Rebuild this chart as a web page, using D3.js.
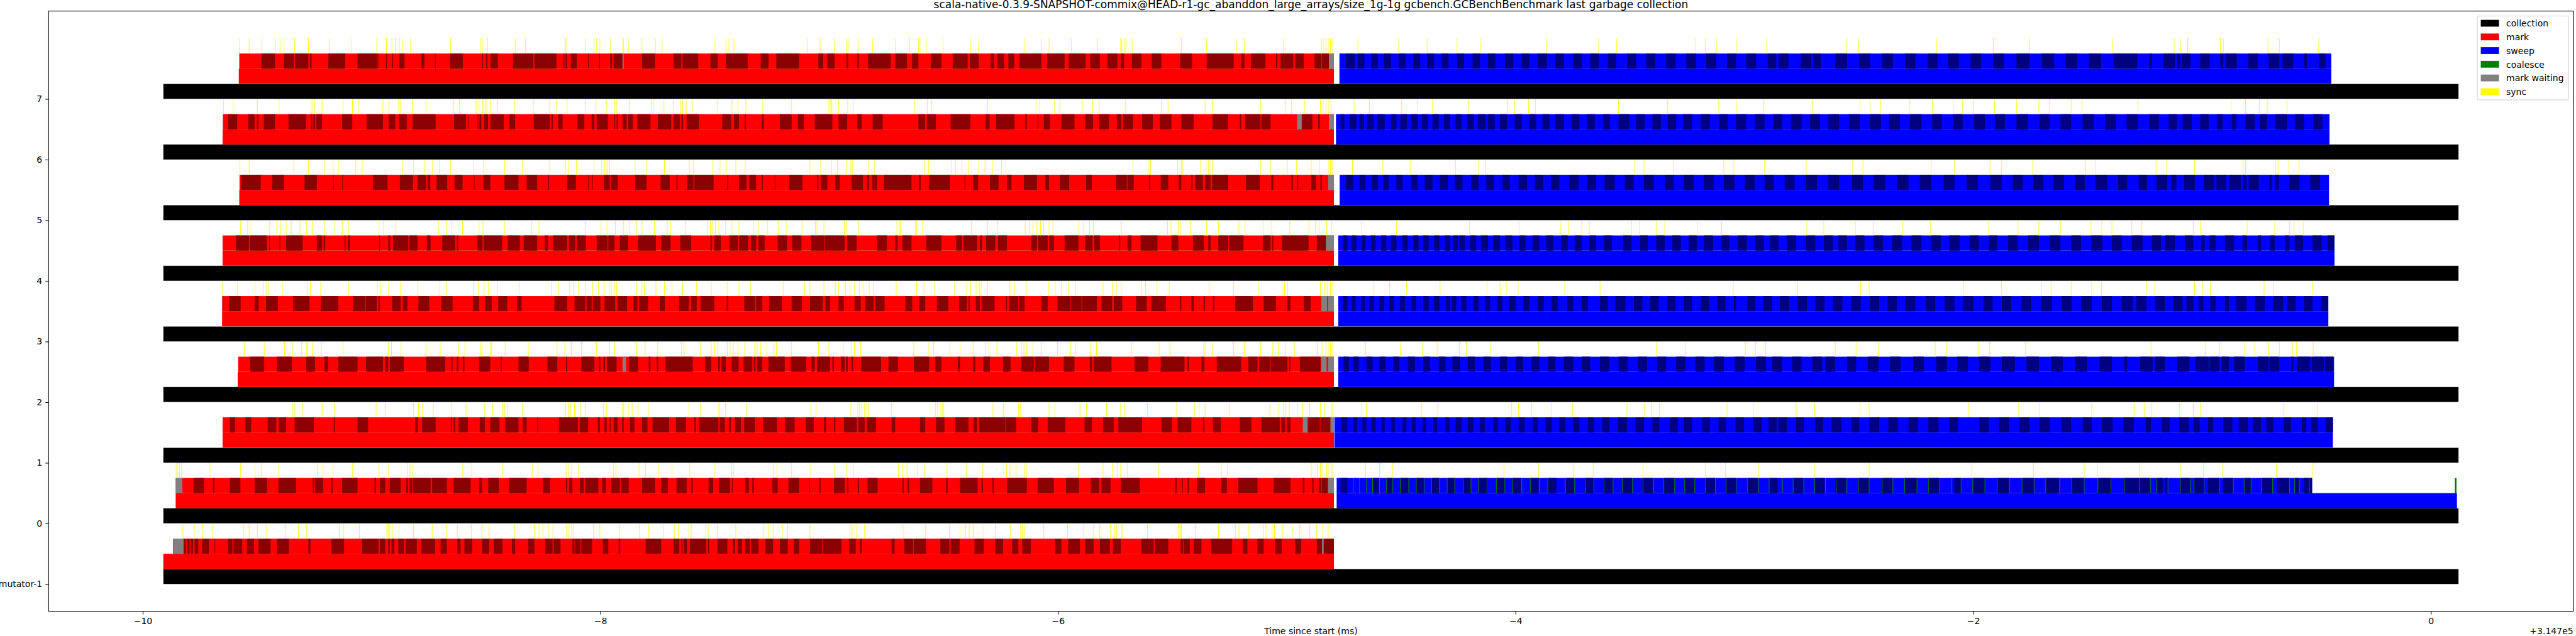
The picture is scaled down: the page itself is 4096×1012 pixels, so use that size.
<!DOCTYPE html>
<html><head><meta charset="utf-8">
<script src="https://cdn.jsdelivr.net/npm/d3@7"></script>
<style>html,body{margin:0;padding:0;background:#fff;overflow:hidden}svg{display:block}</style>
</head><body>
<svg id="chart" width="4096" height="1012"></svg>
<script>
// ---------------- DATA (times in ms, relative to offset +3.147e5) ----------------
const threads = ["mutator-1","0","1","2","3","4","5","6","7"];
const collectionStart = [-9.910,-9.910,-9.910,-9.910,-9.910,-9.910,-9.910,-9.910,-9.910];
const collectionEnd   = [0.121,0.121,0.121,0.121,0.121,0.121,0.121,0.121,0.121];
const markPhaseStart  = [-9.910,-9.856,-9.651,-9.585,-9.653,-9.651,-9.578,-9.651,-9.580];
const markDetailStart = [-9.867,-9.856,-9.651,-9.583,-9.652,-9.651,-9.577,-9.650,-9.578];
const markEnd         = [-4.794,-4.794,-4.794,-4.794,-4.794,-4.794,-4.794,-4.794,-4.794];
const sweepStart      = [null,-4.782,-4.792,-4.775,-4.775,-4.775,-4.769,-4.785,-4.770];
const sweepPhaseEnd   = [null,0.114,-0.428,-0.423,-0.448,-0.421,-0.445,-0.443,-0.435];
const sweepDetailEnd  = [null,-0.519,-0.428,-0.423,-0.448,-0.421,-0.445,-0.443,-0.435];
const xTicks = [-10,-8,-6,-4,-2,0];
const xTickLabels = ["\u221210","\u22128","\u22126","\u22124","\u22122","0"];
const legendLabels = ["collection","mark","sweep","coalesce","mark waiting","sync"];
const legendColors = ["#000000","#ff0000","#0000ff","#008000","#808080","#ffff00"];

// mark batches drawn in dark red (start,end pairs)
const darkRedM = [-9.819,-9.812,-9.805,-9.795,-9.790,-9.780,-9.773,-9.757,-9.740,-9.711,-9.686,-9.683,-9.627,-9.608,-9.603,-9.565,-9.545,-9.513,-9.494,-9.441,-9.414,-9.362,-9.276,-9.267,-9.175,-9.120,-9.041,-8.970,-8.963,-8.940,-8.927,-8.920,-8.913,-8.900,-8.883,-8.859,-8.851,-8.802,-8.782,-8.722,-8.698,-8.671,-8.625,-8.611,-8.594,-8.560,-8.517,-8.486,-8.466,-8.428,-8.386,-8.372,-8.315,-8.288,-8.241,-8.209,-8.204,-8.174,-8.122,-8.113,-8.110,-8.087,-8.083,-8.036,-7.989,-7.965,-7.920,-7.913,-7.802,-7.734,-7.680,-7.655,-7.646,-7.641,-7.636,-7.621,-7.609,-7.537,-7.529,-7.524,-7.488,-7.445,-7.421,-7.411,-7.399,-7.381,-7.367,-7.347,-7.342,-7.309,-7.278,-7.245,-7.215,-7.181,-7.154,-7.131,-7.084,-7.030,-7.026,-6.946,-6.912,-6.884,-6.865,-6.858,-6.727,-6.714,-6.672,-6.633,-6.630,-6.576,-6.514,-6.475,-6.469,-6.430,-6.365,-6.324,-6.274,-6.240,-6.200,-6.173,-6.156,-6.119,-6.012,-5.985,-5.955,-5.904,-5.881,-5.844,-5.817,-5.773,-5.760,-5.726,-5.635,-5.582,-5.577,-5.518,-5.464,-5.454,-5.451,-5.424,-5.407,-5.373,-5.330,-5.239,-5.192,-5.172,-5.128,-5.101,-5.051,-5.022,-4.963,-4.937,-4.869,-4.846,-4.839,-4.794];
const darkRed0 = [-9.778,-9.733,-9.693,-9.686,-9.619,-9.573,-9.511,-9.457,-9.407,-9.330,-9.257,-9.251,-9.247,-9.212,-9.178,-9.170,-9.128,-9.061,-8.987,-8.980,-8.963,-8.940,-8.920,-8.873,-8.848,-8.841,-8.834,-8.822,-8.819,-8.742,-8.735,-8.671,-8.641,-8.567,-8.530,-8.517,-8.490,-8.444,-8.399,-8.322,-8.251,-8.219,-8.150,-8.145,-8.137,-8.122,-8.090,-8.073,-8.066,-8.009,-7.992,-7.976,-7.952,-7.915,-7.910,-7.876,-7.818,-7.761,-7.734,-7.705,-7.667,-7.623,-7.603,-7.596,-7.527,-7.507,-7.482,-7.433,-7.425,-7.421,-7.367,-7.351,-7.336,-7.329,-7.248,-7.225,-7.178,-7.131,-7.087,-7.084,-7.043,-7.037,-6.979,-6.932,-6.922,-6.916,-6.875,-6.869,-6.832,-6.788,-6.680,-6.674,-6.657,-6.650,-6.603,-6.549,-6.489,-6.482,-6.428,-6.351,-6.334,-6.328,-6.287,-6.280,-6.223,-6.136,-6.089,-6.018,-5.965,-5.908,-5.857,-5.820,-5.810,-5.770,-5.726,-5.642,-5.488,-5.481,-5.457,-5.454,-5.434,-5.427,-5.393,-5.357,-5.286,-5.262,-5.212,-5.128,-5.057,-4.984,-4.930,-4.923,-4.889,-4.883,-4.859,-4.849,-4.846,-4.822];
const darkRed1 = [-9.619,-9.597,-9.551,-9.526,-9.454,-9.416,-9.405,-9.373,-9.336,-9.252,-9.165,-9.160,-9.061,-9.015,-8.809,-8.797,-8.779,-8.720,-8.654,-8.649,-8.641,-8.634,-8.619,-8.579,-8.527,-8.505,-8.481,-8.441,-8.416,-8.358,-8.339,-8.322,-8.275,-8.271,-8.181,-8.098,-8.090,-8.053,-8.011,-8.002,-7.982,-7.972,-7.959,-7.955,-7.942,-7.925,-7.905,-7.898,-7.871,-7.851,-7.818,-7.794,-7.772,-7.700,-7.670,-7.625,-7.589,-7.582,-7.569,-7.484,-7.478,-7.456,-7.438,-7.430,-7.411,-7.386,-7.371,-7.325,-7.289,-7.228,-7.194,-7.151,-7.102,-7.067,-7.023,-7.013,-6.979,-6.973,-6.936,-6.879,-6.872,-6.845,-6.835,-6.795,-6.727,-6.711,-6.603,-6.580,-6.533,-6.496,-6.449,-6.391,-6.368,-6.354,-6.344,-6.230,-6.227,-6.183,-6.116,-6.086,-6.045,-5.968,-5.884,-5.851,-5.803,-5.756,-5.736,-5.632,-5.548,-5.501,-5.477,-5.417,-5.367,-5.360,-5.323,-5.289,-5.205,-5.155,-5.111,-5.031,-5.024,-5.007,-5.000,-4.984,-4.906,-4.856,-4.853,-4.809];
const darkRed2 = [-9.531,-9.469,-9.414,-9.348,-9.286,-9.247,-9.206,-9.190,-9.145,-9.061,-9.024,-8.950,-8.940,-8.927,-8.920,-8.859,-8.762,-8.678,-8.651,-8.646,-8.627,-8.621,-8.601,-8.594,-8.530,-8.481,-8.436,-8.431,-8.358,-8.313,-8.231,-8.188,-8.150,-8.145,-8.083,-8.026,-8.006,-8.000,-7.986,-7.979,-7.971,-7.929,-7.875,-7.835,-7.789,-7.781,-7.754,-7.747,-7.715,-7.596,-7.542,-7.515,-7.485,-7.478,-7.471,-7.451,-7.426,-7.396,-7.374,-7.336,-7.329,-7.322,-7.315,-7.292,-7.265,-7.194,-7.168,-7.100,-7.077,-7.063,-7.053,-6.996,-6.986,-6.979,-6.949,-6.932,-6.926,-6.919,-6.902,-6.895,-6.860,-6.773,-6.741,-6.699,-6.630,-6.563,-6.536,-6.509,-6.438,-6.428,-6.371,-6.361,-6.326,-6.297,-6.240,-6.207,-6.160,-6.106,-6.102,-6.039,-5.975,-5.928,-5.861,-5.851,-5.844,-5.766,-5.666,-5.605,-5.551,-5.447,-5.434,-5.427,-5.373,-5.360,-5.306,-5.199,-5.168,-5.128,-5.121,-5.074,-5.071,-4.997,-4.990,-4.984,-4.943,-4.853];
const darkRed3 = [-9.652,-9.649,-9.622,-9.572,-9.511,-9.493,-9.461,-9.409,-9.343,-9.271,-9.222,-9.145,-9.081,-9.029,-9.025,-8.977,-8.970,-8.963,-8.910,-8.873,-8.863,-8.843,-8.795,-8.748,-8.695,-8.646,-8.557,-8.530,-8.503,-8.475,-8.446,-8.407,-8.365,-8.344,-8.201,-8.145,-8.113,-8.066,-8.060,-8.038,-8.033,-8.000,-7.982,-7.935,-7.925,-7.883,-7.855,-7.838,-7.831,-7.791,-7.740,-7.718,-7.656,-7.613,-7.603,-7.579,-7.562,-7.502,-7.448,-7.441,-7.371,-7.324,-7.319,-7.292,-7.262,-7.206,-7.164,-7.119,-7.084,-7.028,-7.016,-6.996,-6.959,-6.936,-6.889,-6.862,-6.842,-6.806,-6.798,-6.758,-6.667,-6.637,-6.606,-6.580,-6.529,-6.479,-6.432,-6.398,-6.391,-6.385,-6.359,-6.341,-6.334,-6.277,-6.227,-6.223,-6.213,-6.173,-6.170,-6.146,-6.072,-6.045,-6.002,-5.948,-5.945,-5.897,-5.894,-5.830,-5.810,-5.763,-5.756,-5.719,-5.659,-5.612,-5.592,-5.528,-5.467,-5.461,-5.417,-5.407,-5.363,-5.357,-5.323,-5.316,-5.225,-5.148,-5.101,-5.047,-4.997,-4.984,-4.926,-4.896];
const darkRed4 = [-9.593,-9.536,-9.531,-9.457,-9.447,-9.444,-9.402,-9.399,-9.373,-9.301,-9.239,-9.216,-9.209,-9.202,-9.118,-9.113,-9.104,-9.094,-8.967,-8.963,-8.927,-8.918,-8.906,-8.839,-8.834,-8.799,-8.758,-8.742,-8.691,-8.634,-8.627,-8.621,-8.537,-8.515,-8.510,-8.429,-8.405,-8.352,-8.335,-8.276,-8.243,-8.229,-8.207,-8.145,-8.137,-8.110,-8.103,-8.063,-8.016,-7.969,-7.965,-7.938,-7.915,-7.878,-7.835,-7.757,-7.734,-7.693,-7.651,-7.603,-7.519,-7.512,-7.502,-7.473,-7.435,-7.398,-7.393,-7.354,-7.342,-7.319,-7.309,-7.282,-7.225,-7.184,-7.161,-7.121,-7.080,-7.023,-7.020,-6.932,-6.921,-6.880,-6.791,-6.748,-6.711,-6.701,-6.680,-6.640,-6.576,-6.509,-6.445,-6.420,-6.413,-6.353,-6.341,-6.331,-6.314,-6.274,-6.262,-6.223,-6.116,-6.092,-6.086,-6.045,-6.039,-6.018,-5.971,-5.911,-5.881,-5.849,-5.842,-5.817,-5.733,-5.728,-5.696,-5.679,-5.639,-5.565,-5.504,-5.474,-5.410,-5.363,-5.343,-5.333,-5.299,-5.256,-5.252,-5.189,-5.105,-5.071,-5.064,-5.059,-5.021,-4.905,-4.869,-4.829];
const darkRed5 = [-9.570,-9.484,-9.434,-9.382,-9.293,-9.239,-9.168,-9.165,-9.128,-9.125,-8.994,-8.930,-8.876,-8.819,-8.799,-8.762,-8.755,-8.743,-8.716,-8.669,-8.637,-8.602,-8.553,-8.550,-8.511,-8.481,-8.419,-8.358,-8.322,-8.276,-8.229,-8.224,-8.145,-8.107,-8.053,-8.050,-8.036,-8.033,-7.984,-7.959,-7.955,-7.924,-7.848,-7.798,-7.737,-7.697,-7.667,-7.663,-7.620,-7.593,-7.589,-7.505,-7.445,-7.441,-7.394,-7.361,-7.349,-7.319,-7.295,-7.290,-7.238,-7.235,-7.174,-7.117,-7.053,-7.047,-7.037,-7.008,-6.973,-6.954,-6.902,-6.852,-6.835,-6.825,-6.811,-6.790,-6.761,-6.640,-6.608,-6.600,-6.563,-6.472,-6.408,-6.405,-6.371,-6.349,-6.297,-6.260,-6.223,-6.203,-6.149,-6.092,-6.055,-6.039,-5.992,-5.951,-5.877,-5.852,-5.746,-5.699,-5.696,-5.669,-5.602,-5.597,-5.551,-5.518,-5.472,-5.461,-5.417,-5.412,-5.400,-5.367,-5.357,-5.333,-5.326,-5.256,-5.178,-5.118,-5.068,-5.059,-4.980,-4.973,-4.955,-4.950,-4.893,-4.873,-4.853,-4.846];
const darkRed6 = [-9.627,-9.587,-9.540,-9.511,-9.501,-9.494,-9.471,-9.422,-9.363,-9.286,-9.266,-9.259,-9.254,-9.247,-9.241,-9.216,-9.128,-9.084,-9.022,-8.950,-8.925,-8.896,-8.880,-8.846,-8.821,-8.720,-8.639,-8.587,-8.577,-8.574,-8.537,-8.533,-8.528,-8.520,-8.508,-8.491,-8.480,-8.422,-8.397,-8.372,-8.291,-8.221,-8.214,-8.207,-8.184,-8.165,-8.100,-8.070,-8.038,-8.026,-8.016,-7.967,-7.940,-7.935,-7.929,-7.922,-7.903,-7.885,-7.878,-7.858,-7.838,-7.781,-7.749,-7.690,-7.680,-7.653,-7.646,-7.638,-7.623,-7.569,-7.467,-7.428,-7.416,-7.394,-7.369,-7.364,-7.295,-7.285,-7.215,-7.164,-7.137,-7.110,-7.063,-6.986,-6.959,-6.921,-6.877,-6.858,-6.810,-6.766,-6.610,-6.581,-6.573,-6.534,-6.469,-6.383,-6.316,-6.299,-6.270,-6.190,-6.143,-6.136,-6.089,-6.086,-6.062,-6.035,-5.985,-5.928,-5.881,-5.847,-5.820,-5.777,-5.743,-5.723,-5.716,-5.672,-5.632,-5.585,-5.555,-5.504,-5.461,-5.407,-5.325,-5.257,-5.205,-5.199,-5.182,-5.115,-5.111,-5.071,-4.933,-4.888,-4.863,-4.856];
const darkRed7 = [-9.481,-9.422,-9.383,-9.340,-9.335,-9.276,-9.269,-9.262,-9.189,-9.115,-9.061,-8.977,-8.974,-8.970,-8.937,-8.932,-8.911,-8.906,-8.878,-8.856,-8.782,-8.769,-8.723,-8.720,-8.658,-8.601,-8.518,-8.513,-8.500,-8.493,-8.480,-8.448,-8.382,-8.293,-8.288,-8.192,-8.162,-8.157,-8.152,-8.145,-8.129,-8.103,-8.054,-8.051,-8.006,-8.002,-7.957,-7.949,-7.942,-7.903,-7.818,-7.761,-7.680,-7.646,-7.641,-7.572,-7.519,-7.487,-7.451,-7.356,-7.299,-7.265,-7.231,-7.131,-7.047,-7.026,-7.008,-6.976,-6.924,-6.917,-6.877,-6.870,-6.830,-6.731,-6.711,-6.660,-6.638,-6.610,-6.556,-6.509,-6.460,-6.395,-6.385,-6.346,-6.294,-6.279,-6.265,-6.235,-6.217,-6.191,-6.168,-6.072,-6.047,-5.971,-5.953,-5.879,-5.859,-5.817,-5.783,-5.740,-5.726,-5.711,-5.677,-5.635,-5.590,-5.548,-5.466,-5.414,-5.350,-5.232,-5.199,-5.185,-5.157,-5.093,-5.047,-5.041,-5.027,-4.972,-4.963,-4.926,-4.879,-4.849,-4.846,-4.816];

// mark waiting (start,end pairs)
const grayM = [-9.864,-9.822,-4.846,-4.839];
const gray0 = [-9.856,-9.827,-4.819,-4.794];
const gray1 = [-4.930,-4.910,-4.809,-4.794];
const gray2 = [-7.903,-7.888,-4.849,-4.826,-4.819,-4.794];
const gray3 = [-4.849,-4.824,-4.819,-4.794];
const gray4 = [-4.829,-4.794];
const gray5 = [-4.819,-4.794];
const gray6 = [-4.955,-4.935,-4.816,-4.794];
const gray7 = [-7.903,-7.898,-4.816,-4.794];

// sweep batches drawn in navy (start,end pairs)
const navy0 = [-4.765,-4.735,-4.622,-4.598,-4.565,-4.538,-4.504,-4.467,-4.437,-4.400,-4.367,-4.333,-4.299,-4.266,-4.229,-4.195,-4.162,-4.121,-4.084,-4.047,-4.014,-3.977,-3.936,-3.900,-3.859,-3.822,-3.782,-3.742,-3.698,-3.658,-3.617,-3.574,-3.533,-3.490,-3.446,-3.399,-3.352,-3.305,-3.264,-3.217,-3.170,-3.127,-3.080,-3.036,-2.986,-2.942,-2.892,-2.855,-2.787,-2.744,-2.693,-2.650,-2.603,-2.556,-2.502,-2.455,-2.401,-2.354,-2.300,-2.246,-2.199,-2.149,-2.083,-2.053,-2.002,-1.949,-1.895,-1.841,-1.787,-1.734,-1.683,-1.623,-1.569,-1.515,-1.455,-1.398,-1.340,-1.273,-1.270,-1.226,-1.199,-1.172,-1.162,-1.149,-1.095,-1.051,-1.035,-0.991,-0.974,-0.924,-0.907,-0.863,-0.816,-0.786,-0.739,-0.692,-0.672,-0.618,-0.595,-0.575,-0.554,-0.519];
const navy1 = [-4.762,-4.735,-4.709,-4.692,-4.669,-4.652,-4.629,-4.612,-4.588,-4.572,-4.545,-4.528,-4.494,-4.477,-4.454,-4.437,-4.407,-4.390,-4.360,-4.343,-4.309,-4.289,-4.262,-4.236,-4.209,-4.185,-4.155,-4.135,-4.098,-4.078,-4.044,-4.020,-3.987,-3.960,-3.926,-3.903,-3.869,-3.842,-3.809,-3.782,-3.748,-3.721,-3.684,-3.658,-3.621,-3.590,-3.553,-3.513,-3.476,-3.439,-3.402,-3.372,-3.325,-3.291,-3.264,-3.228,-3.184,-3.150,-3.113,-3.080,-3.039,-3.002,-2.962,-2.925,-2.895,-2.858,-2.851,-2.814,-2.774,-2.740,-2.690,-2.656,-2.619,-2.576,-2.532,-2.498,-2.455,-2.411,-2.371,-2.330,-2.283,-2.240,-2.196,-2.152,-2.105,-2.066,-1.975,-1.932,-1.888,-1.844,-1.797,-1.754,-1.710,-1.666,-1.616,-1.572,-1.522,-1.482,-1.438,-1.391,-1.344,-1.297,-1.246,-1.223,-1.176,-1.142,-1.099,-1.058,-1.035,-1.011,-0.974,-0.951,-0.907,-0.867,-0.840,-0.799,-0.779,-0.742,-0.719,-0.689,-0.642,-0.611,-0.564,-0.544,-0.524,-0.494,-0.460,-0.428];
const navy2 = [-4.752,-4.728,-4.709,-4.686,-4.652,-4.625,-4.595,-4.568,-4.535,-4.508,-4.471,-4.440,-4.404,-4.373,-4.336,-4.306,-4.276,-4.242,-4.209,-4.178,-4.141,-4.108,-4.068,-4.037,-4.000,-3.967,-3.930,-3.896,-3.859,-3.826,-3.789,-3.748,-3.711,-3.674,-3.631,-3.590,-3.550,-3.510,-3.466,-3.426,-3.382,-3.342,-3.298,-3.258,-3.214,-3.174,-3.133,-3.090,-3.043,-2.999,-2.949,-2.905,-2.878,-2.834,-2.791,-2.750,-2.703,-2.660,-2.646,-2.603,-2.552,-2.512,-2.461,-2.414,-2.364,-2.317,-2.263,-2.216,-2.162,-2.115,-2.070,-2.023,-1.975,-1.925,-1.875,-1.818,-1.767,-1.713,-1.660,-1.609,-1.555,-1.502,-1.448,-1.394,-1.340,-1.327,-1.270,-1.216,-1.206,-1.162,-1.109,-1.055,-1.028,-0.971,-0.967,-0.924,-0.914,-0.883,-0.860,-0.813,-0.756,-0.709,-0.705,-0.662,-0.611,-0.601,-0.584,-0.527,-0.521,-0.467,-0.463,-0.427];
const navy3 = [-4.755,-4.735,-4.716,-4.699,-4.676,-4.659,-4.639,-4.619,-4.595,-4.575,-4.551,-4.531,-4.504,-4.484,-4.457,-4.434,-4.404,-4.380,-4.356,-4.333,-4.303,-4.286,-4.279,-4.259,-4.239,-4.215,-4.185,-4.162,-4.135,-4.111,-4.081,-4.057,-4.027,-4.000,-3.967,-3.940,-3.903,-3.876,-3.842,-3.816,-3.775,-3.748,-3.711,-3.684,-3.631,-3.597,-3.564,-3.520,-3.483,-3.446,-3.412,-3.375,-3.338,-3.301,-3.264,-3.228,-3.191,-3.154,-3.120,-3.083,-3.046,-3.036,-2.989,-2.952,-2.918,-2.878,-2.844,-2.804,-2.767,-2.727,-2.690,-2.650,-2.613,-2.572,-2.532,-2.492,-2.451,-2.411,-2.374,-2.334,-2.297,-2.253,-2.206,-2.166,-2.125,-2.082,-2.046,-1.999,-1.955,-1.915,-1.875,-1.834,-1.791,-1.747,-1.703,-1.656,-1.613,-1.569,-1.529,-1.482,-1.438,-1.394,-1.351,-1.303,-1.287,-1.243,-1.206,-1.162,-1.125,-1.085,-1.068,-1.038,-1.015,-0.994,-0.964,-0.941,-0.900,-0.883,-0.850,-0.806,-0.769,-0.726,-0.689,-0.645,-0.628,-0.591,-0.554,-0.517,-0.480,-0.450];
const navy4 = [-4.755,-4.735,-4.716,-4.696,-4.672,-4.656,-4.632,-4.612,-4.588,-4.565,-4.545,-4.521,-4.494,-4.471,-4.447,-4.424,-4.404,-4.380,-4.356,-4.333,-4.309,-4.286,-4.272,-4.252,-4.246,-4.222,-4.199,-4.172,-4.152,-4.121,-4.098,-4.068,-4.044,-4.014,-3.984,-3.957,-3.926,-3.896,-3.866,-3.836,-3.802,-3.772,-3.742,-3.711,-3.678,-3.648,-3.614,-3.580,-3.530,-3.493,-3.456,-3.422,-3.385,-3.348,-3.315,-3.278,-3.244,-3.207,-3.177,-3.137,-3.100,-3.066,-3.029,-2.989,-2.952,-2.915,-2.888,-2.851,-2.814,-2.774,-2.730,-2.690,-2.653,-2.613,-2.589,-2.552,-2.515,-2.475,-2.435,-2.394,-2.354,-2.310,-2.270,-2.226,-2.186,-2.142,-2.105,-2.059,-2.016,-1.975,-1.932,-1.895,-1.848,-1.804,-1.760,-1.713,-1.666,-1.619,-1.572,-1.529,-1.485,-1.435,-1.394,-1.351,-1.307,-1.260,-1.219,-1.179,-1.162,-1.119,-1.075,-1.038,-1.004,-0.988,-0.967,-0.941,-0.900,-0.860,-0.823,-0.803,-0.756,-0.742,-0.702,-0.682,-0.638,-0.618,-0.595,-0.558,-0.517,-0.477,-0.450,-0.421];
const navy5 = [-4.742,-4.709,-4.682,-4.656,-4.629,-4.602,-4.578,-4.555,-4.521,-4.494,-4.457,-4.427,-4.397,-4.363,-4.330,-4.296,-4.266,-4.232,-4.195,-4.162,-4.128,-4.094,-4.057,-4.024,-3.987,-3.950,-3.916,-3.879,-3.846,-3.809,-3.765,-3.725,-3.688,-3.648,-3.611,-3.567,-3.523,-3.483,-3.439,-3.396,-3.348,-3.308,-3.264,-3.221,-3.177,-3.133,-3.090,-3.043,-2.999,-2.955,-2.912,-2.871,-2.824,-2.781,-2.730,-2.683,-2.633,-2.586,-2.529,-2.482,-2.435,-2.384,-2.334,-2.283,-2.233,-2.183,-2.129,-2.082,-2.029,-1.979,-1.925,-1.875,-1.828,-1.784,-1.737,-1.693,-1.650,-1.603,-1.555,-1.512,-1.465,-1.414,-1.367,-1.327,-1.277,-1.240,-1.199,-1.152,-1.135,-1.112,-1.078,-1.031,-0.991,-0.947,-0.937,-0.894,-0.880,-0.830,-0.820,-0.806,-0.796,-0.752,-0.705,-0.695,-0.682,-0.665,-0.618,-0.574,-0.527,-0.484];
const navy6 = [-4.765,-4.748,-4.725,-4.696,-4.682,-4.662,-4.649,-4.619,-4.605,-4.572,-4.545,-4.521,-4.504,-4.474,-4.457,-4.427,-4.410,-4.383,-4.363,-4.336,-4.313,-4.286,-4.262,-4.236,-4.212,-4.182,-4.165,-4.131,-4.121,-4.091,-4.068,-4.037,-4.004,-3.973,-3.940,-3.910,-3.883,-3.852,-3.826,-3.789,-3.755,-3.721,-3.688,-3.654,-3.617,-3.587,-3.550,-3.503,-3.473,-3.436,-3.402,-3.365,-3.335,-3.298,-3.268,-3.228,-3.191,-3.150,-3.110,-3.073,-3.036,-2.992,-2.955,-2.912,-2.875,-2.834,-2.797,-2.750,-2.713,-2.670,-2.633,-2.586,-2.542,-2.495,-2.451,-2.404,-2.367,-2.320,-2.277,-2.226,-2.179,-2.136,-2.088,-2.046,-1.996,-1.949,-1.905,-1.861,-1.811,-1.760,-1.710,-1.666,-1.619,-1.572,-1.522,-1.471,-1.424,-1.377,-1.330,-1.280,-1.230,-1.189,-1.146,-1.109,-1.085,-1.045,-1.008,-0.971,-0.934,-0.910,-0.870,-0.850,-0.810,-0.769,-0.746,-0.715,-0.679,-0.628,-0.595,-0.554,-0.514,-0.474];
const navy7 = [-4.742,-4.703,-4.689,-4.661,-4.632,-4.602,-4.575,-4.545,-4.511,-4.481,-4.447,-4.417,-4.387,-4.356,-4.323,-4.293,-4.256,-4.225,-4.188,-4.155,-4.121,-4.088,-4.047,-4.010,-3.973,-3.940,-3.903,-3.863,-3.826,-3.789,-3.748,-3.711,-3.674,-3.637,-3.597,-3.560,-3.513,-3.473,-3.429,-3.389,-3.342,-3.301,-3.254,-3.211,-3.167,-3.123,-3.076,-3.036,-2.992,-2.949,-2.898,-2.861,-2.851,-2.808,-2.754,-2.707,-2.700,-2.666,-2.603,-2.552,-2.498,-2.451,-2.398,-2.351,-2.297,-2.253,-2.199,-2.156,-2.109,-2.063,-2.012,-1.965,-1.912,-1.865,-1.811,-1.754,-1.700,-1.646,-1.596,-1.545,-1.495,-1.441,-1.387,-1.283,-1.230,-1.218,-1.169,-1.119,-1.109,-1.095,-1.088,-1.051,-1.008,-0.967,-0.920,-0.907,-0.897,-0.848,-0.798,-0.756,-0.709,-0.662,-0.648,-0.601,-0.554,-0.541,-0.490,-0.460];

// coalesce events (thread 0 only)
const coalesce0 = [-4.709,-4.682,-4.652,-4.625,-4.595,-4.565,-4.538,-4.504,-4.467,-4.434,-4.400,-4.367,-4.333,-4.299,-4.266,-4.229,-4.195,-4.162,-4.125,-4.084,-4.047,-4.014,-3.973,-3.936,-3.896,-3.859,-3.782,-3.742,-3.695,-3.658,-3.614,-3.574,-3.533,-3.490,-3.443,-3.396,-3.352,-3.305,-3.261,-3.217,-3.170,-3.127,-3.080,-3.036,-2.986,-2.939,-2.892,-2.834,-2.787,-2.740,-2.693,-2.646,-2.599,-2.552,-2.502,-2.455,-2.398,-2.351,-2.300,-2.246,-2.196,-2.146,-2.095,-2.053,-2.002,-1.949,-1.895,-1.841,-1.787,-1.734,-1.683,-1.623,-1.569,-1.515,-1.455,-1.398,-1.340,-1.273,-1.226,-1.199,-1.149,-1.095,-1.051,-1.035,-0.991,-0.924,-0.863,-0.816,-0.786,-0.739,-0.692,-0.618,-0.595,-0.575,-0.531];
const coalesceLong0 = [0.105,0.112];

// sync events (times)
const syncM = [-9.824,-9.775,-9.740,-9.693,-9.560,-9.535,-9.499,-9.461,-9.375,-9.320,-9.283,-9.141,-9.121,-9.053,-8.933,-8.927,-8.920,-8.910,-8.880,-8.816,-8.735,-8.674,-8.625,-8.564,-8.518,-8.486,-8.375,-8.288,-8.268,-8.251,-8.228,-8.207,-8.147,-8.137,-8.125,-8.117,-8.030,-8.002,-7.915,-7.830,-7.788,-7.724,-7.677,-7.660,-7.613,-7.603,-7.539,-7.529,-7.488,-7.408,-7.285,-7.265,-7.245,-7.205,-7.181,-7.084,-6.909,-6.900,-6.879,-6.845,-6.674,-6.580,-6.475,-6.428,-6.403,-6.388,-6.371,-6.324,-6.274,-6.207,-6.163,-6.156,-6.146,-6.062,-5.958,-5.887,-5.844,-5.817,-5.770,-5.753,-5.743,-5.723,-5.716,-5.609,-5.474,-5.464,-5.461,-5.400,-5.299,-5.225,-5.209,-5.168,-5.101,-5.091,-5.064,-5.054,-5.017,-4.977,-4.943,-4.900,-4.869,-4.842,-4.819];
const sync0 = [-9.854,-9.847,-9.839,-9.830,-9.706,-9.572,-9.509,-9.481,-9.405,-9.236,-9.212,-9.168,-9.084,-8.967,-8.925,-8.844,-8.832,-8.819,-8.601,-8.562,-8.428,-8.298,-8.273,-8.150,-8.139,-8.125,-8.095,-7.942,-7.932,-7.831,-7.802,-7.747,-7.687,-7.609,-7.499,-7.426,-7.419,-7.245,-7.228,-7.164,-7.080,-6.976,-6.926,-6.894,-6.697,-6.680,-6.660,-6.613,-6.583,-6.485,-6.401,-6.328,-6.225,-6.210,-6.183,-6.146,-6.139,-5.911,-5.803,-5.763,-5.740,-5.726,-5.696,-5.561,-5.387,-5.286,-5.259,-4.893,-4.866,-4.853,-4.846,-4.826,-4.816,-4.805,-4.799,-4.656,-4.595,-4.538,-4.051,-3.900,-3.745,-3.661,-3.443,-3.170,-3.083,-2.939,-2.695,-2.455,-2.006,-1.737,-1.515,-1.458,-1.273,-1.095,-0.994,-0.910,-0.675,-0.519];
const sync1 = [-9.346,-9.335,-9.303,-9.216,-9.162,-8.980,-8.940,-8.817,-8.795,-8.777,-8.730,-8.649,-8.587,-8.505,-8.471,-8.426,-8.418,-8.406,-8.340,-8.152,-8.140,-8.129,-8.113,-8.088,-8.066,-7.986,-7.972,-7.905,-7.898,-7.878,-7.861,-7.835,-7.791,-7.613,-7.562,-7.485,-7.478,-7.453,-7.361,-7.080,-7.057,-6.905,-6.875,-6.867,-6.858,-6.845,-6.835,-6.828,-6.727,-6.536,-6.526,-6.512,-6.506,-6.499,-6.284,-6.239,-6.173,-6.165,-6.039,-6.013,-5.904,-5.876,-5.787,-5.726,-5.709,-5.609,-5.481,-5.404,-5.383,-5.357,-5.252,-5.074,-5.034,-5.014,-5.004,-4.989,-4.955,-4.930,-4.900,-4.853,-4.836,-4.802,-4.672,-4.652,-4.410,-4.340,-4.017,-3.987,-3.930,-3.842,-3.752,-3.513,-3.436,-3.406,-3.372,-3.076,-2.962,-2.774,-2.693,-2.495,-2.455,-2.019,-1.801,-1.710,-1.482,-1.297,-1.253,-1.219,-1.099,-1.038,-1.008,-0.642,-0.497];
const sync2 = [-9.555,-9.469,-9.380,-9.346,-9.305,-9.283,-9.278,-9.259,-9.219,-9.125,-8.927,-8.913,-8.871,-8.762,-8.700,-8.619,-8.592,-8.523,-8.517,-8.481,-8.475,-8.416,-8.315,-8.189,-8.155,-8.127,-8.083,-8.016,-7.959,-7.937,-7.841,-7.804,-7.749,-7.646,-7.634,-7.562,-7.515,-7.500,-7.487,-7.445,-7.433,-7.419,-7.399,-7.369,-7.325,-7.315,-7.299,-7.272,-7.241,-7.231,-7.164,-7.047,-7.001,-6.939,-6.902,-6.890,-6.862,-6.630,-6.564,-6.543,-6.472,-6.428,-6.371,-6.316,-6.301,-6.267,-6.180,-6.160,-6.149,-6.136,-6.109,-6.072,-6.002,-5.945,-5.924,-5.857,-5.832,-5.679,-5.558,-5.511,-5.363,-5.357,-5.323,-5.232,-5.185,-5.115,-5.061,-5.037,-5.007,-4.967,-4.866,-4.846,-4.829,-4.819,-4.809,-4.799,-4.656,-4.504,-4.407,-4.343,-4.246,-4.215,-4.108,-3.900,-3.385,-3.258,-2.996,-2.952,-2.908,-2.603,-2.512,-2.414,-2.166,-2.115,-1.979,-1.928,-1.771,-1.223,-0.984,-0.924,-0.813,-0.769,-0.709,-0.662,-0.605,-0.588,-0.514];
const sync3 = [-9.651,-9.585,-9.509,-9.471,-9.461,-9.452,-9.390,-9.279,-9.267,-9.222,-9.100,-8.974,-8.962,-8.925,-8.873,-8.797,-8.701,-8.674,-8.555,-8.533,-8.508,-8.490,-8.451,-8.355,-8.214,-8.182,-8.134,-8.117,-8.097,-8.066,-8.033,-8.008,-7.984,-7.961,-7.952,-7.938,-7.929,-7.841,-7.818,-7.808,-7.757,-7.720,-7.687,-7.640,-7.579,-7.515,-7.446,-7.394,-7.344,-7.201,-7.107,-7.084,-7.023,-6.973,-6.959,-6.929,-6.909,-6.889,-6.867,-6.852,-6.825,-6.806,-6.707,-6.618,-6.586,-6.539,-6.452,-6.398,-6.381,-6.358,-6.344,-6.336,-6.307,-6.210,-6.190,-6.139,-6.042,-6.012,-5.985,-5.955,-5.924,-5.803,-5.763,-5.745,-5.724,-5.635,-5.617,-5.567,-5.514,-5.340,-5.232,-5.125,-5.021,-5.010,-4.997,-4.853,-4.834,-4.829,-4.822,-4.809,-4.799,-4.619,-4.551,-4.477,-4.330,-4.125,-4.068,-4.041,-3.989,-3.785,-3.631,-3.049,-2.767,-2.492,-2.455,-2.044,-1.876,-1.703,-1.660,-1.572,-1.482,-1.440,-1.243,-1.206,-1.033,-0.998,-0.964,-0.729,-0.689,-0.519];
const sync4 = [-9.572,-9.541,-9.531,-9.447,-9.414,-9.397,-9.373,-9.351,-9.313,-9.283,-9.259,-9.206,-9.160,-9.128,-9.101,-8.967,-8.947,-8.893,-8.708,-8.674,-8.649,-8.602,-8.530,-8.513,-8.419,-8.301,-8.268,-8.066,-7.997,-7.971,-7.934,-7.898,-7.871,-7.843,-7.818,-7.764,-7.707,-7.692,-7.629,-7.532,-7.519,-7.509,-7.497,-7.482,-7.453,-7.425,-7.394,-7.329,-7.309,-7.270,-7.223,-7.188,-7.119,-7.060,-7.053,-7.023,-6.934,-6.924,-6.872,-6.704,-6.694,-6.689,-6.623,-6.617,-6.591,-6.378,-6.307,-6.265,-6.143,-6.126,-6.109,-6.092,-6.076,-6.062,-6.039,-6.022,-5.908,-5.887,-5.862,-5.845,-5.723,-5.521,-5.506,-5.474,-5.466,-5.422,-5.350,-5.299,-5.209,-5.182,-5.103,-5.066,-4.987,-4.903,-4.874,-4.859,-4.826,-4.805,-4.672,-4.521,-4.202,-3.984,-3.802,-3.768,-3.711,-3.678,-3.493,-3.459,-3.385,-3.348,-3.207,-3.100,-2.727,-2.653,-2.515,-2.435,-2.310,-2.186,-1.932,-1.804,-1.713,-1.619,-1.485,-1.438,-1.394,-1.307,-1.263,-1.038,-1.008,-0.803,-0.682,-0.618,-0.598,-0.558];
const sync5 = [-9.575,-9.535,-9.340,-9.276,-9.206,-9.168,-9.145,-9.069,-9.041,-8.866,-8.817,-8.769,-8.735,-8.703,-8.654,-8.553,-8.510,-8.418,-8.340,-8.221,-8.152,-8.139,-8.105,-8.028,-7.994,-7.982,-7.971,-7.959,-7.848,-7.798,-7.720,-7.611,-7.594,-7.509,-7.477,-7.450,-7.408,-7.367,-7.084,-7.037,-6.989,-6.964,-6.926,-6.905,-6.899,-6.828,-6.803,-6.583,-6.566,-6.465,-6.447,-6.420,-6.391,-6.346,-6.319,-6.287,-6.247,-5.672,-5.602,-5.595,-5.477,-5.461,-5.454,-5.377,-5.353,-5.343,-5.336,-5.326,-5.115,-5.071,-4.997,-4.957,-4.893,-4.856,-4.816,-4.809,-4.802,-4.713,-4.580,-4.461,-4.262,-4.162,-4.131,-3.480,-3.439,-3.308,-3.090,-3.046,-2.912,-2.730,-2.529,-2.482,-2.184,-2.083,-1.927,-1.876,-1.740,-1.508,-1.465,-1.201,-1.154,-1.033,-0.820,-0.810,-0.679,-0.668,-0.620,-0.576];
const sync6 = [-9.647,-9.605,-9.499,-9.404,-9.264,-9.256,-9.249,-9.216,-9.125,-9.083,-9.058,-8.950,-8.923,-8.881,-8.873,-8.822,-8.762,-8.641,-8.616,-8.543,-8.530,-8.515,-8.510,-8.503,-8.496,-8.481,-8.449,-8.375,-8.293,-8.221,-8.191,-8.145,-8.066,-8.019,-7.974,-7.938,-7.930,-7.873,-7.777,-7.769,-7.722,-7.680,-7.650,-7.640,-7.625,-7.599,-7.487,-7.425,-7.399,-7.364,-7.290,-7.164,-7.001,-6.993,-6.988,-6.959,-6.919,-6.895,-6.627,-6.571,-6.553,-6.307,-6.096,-6.079,-6.015,-5.992,-5.894,-5.849,-5.820,-5.706,-5.548,-5.519,-5.357,-5.326,-5.115,-5.007,-4.980,-4.923,-4.853,-4.841,-4.829,-4.816,-4.807,-4.706,-4.639,-4.498,-4.427,-4.363,-4.207,-4.034,-4.004,-3.943,-3.913,-3.550,-3.335,-3.112,-3.036,-2.915,-2.703,-2.495,-2.451,-2.404,-2.277,-2.179,-2.088,-2.046,-1.999,-1.907,-1.811,-1.713,-1.666,-1.572,-1.525,-1.280,-0.873,-0.810,-0.749,-0.715,-0.628];
const sync7 = [-9.577,-9.535,-9.479,-9.420,-9.400,-9.383,-9.336,-9.276,-9.184,-9.086,-8.977,-8.935,-8.911,-8.896,-8.878,-8.863,-8.829,-8.654,-8.522,-8.513,-8.493,-8.372,-8.328,-8.154,-8.150,-8.066,-8.028,-8.016,-8.002,-7.957,-7.902,-7.898,-7.878,-7.818,-7.759,-7.730,-7.499,-7.451,-7.438,-7.416,-7.094,-7.040,-7.035,-6.978,-6.924,-6.917,-6.874,-6.811,-6.711,-6.648,-6.610,-6.603,-6.576,-6.502,-6.383,-6.346,-6.148,-6.072,-6.039,-5.941,-5.827,-5.726,-5.721,-5.711,-5.703,-5.676,-5.461,-5.350,-5.220,-5.185,-5.014,-4.849,-4.841,-4.829,-4.819,-4.809,-4.799,-4.689,-4.511,-4.387,-4.256,-4.155,-3.864,-3.637,-3.558,-3.212,-3.170,-3.123,-3.036,-2.902,-2.552,-2.500,-2.159,-1.912,-1.754,-1.391,-1.122,-1.095,-1.063,-0.920,-0.907,-0.712,-0.662,-0.490];

// ---------------- table built from the arrays ----------------
const darkRedByThread = [darkRedM,darkRed0,darkRed1,darkRed2,darkRed3,darkRed4,darkRed5,darkRed6,darkRed7];
const grayByThread = [grayM,gray0,gray1,gray2,gray3,gray4,gray5,gray6,gray7];
const navyByThread = [[],navy0,navy1,navy2,navy3,navy4,navy5,navy6,navy7];
const syncByThread = [syncM,sync0,sync1,sync2,sync3,sync4,sync5,sync6,sync7];
const coalesceByThread = [[],coalesce0,[],[],[],[],[],[],[]];
const pairs = a => { const out=[]; for (let i=0;i+1<a.length;i+=2) out.push([a[i],a[i+1]]); return out; };

// ---------------- layout ----------------
const W = 4096, H = 1012;
const M = {left:77.2, right:4091.7, top:17.6, bottom:972.8};
const FONT = "DejaVu Sans, Liberation Sans, sans-serif";
const xmin = d3.min(collectionStart), xmax = d3.max(collectionEnd.concat(sweepPhaseEnd.filter(v=>v!==null)));
const xpad = (xmax - xmin) * 0.05;
const x = d3.scaleLinear().domain([xmin - xpad, xmax + xpad]).range([M.left, M.right]);
const ymin = -1, ymax = threads.length - 1, ypad = (ymax - ymin) * 0.05;
const y = d3.scaleLinear().domain([ymin - ypad, ymax + ypad]).range([M.bottom, M.top]);

const svg = d3.select("#chart");
svg.append("rect").attr("width", W).attr("height", H).attr("fill", "#fff");
const plot = svg.append("g");

function band(v, k) { return [y(v + (k + 1) * 0.25), y(v + k * 0.25)]; }
function drawSpans(list, v, k, color, minW, stroke) {
  const [y0, y1] = band(v, k);
  const sel = plot.append("g").attr("fill", color).selectAll("rect").data(list).join("rect")
    .attr("x", d => x(d[0]))
    .attr("width", d => Math.max(minW, x(d[1]) - x(d[0])))
    .attr("y", y0).attr("height", y1 - y0);
  if (stroke) sel.attr("stroke", stroke).attr("stroke-width", 0.5);
}
function drawTicks(list, v, k, color, w) {
  const [y0, y1] = band(v, k);
  plot.append("g").attr("fill", color).selectAll("rect").data(list).join("rect")
    .attr("x", d => x(d) - w / 2).attr("width", w)
    .attr("y", y0).attr("height", y1 - y0);
}

threads.forEach((name, i) => {
  const v = i - 1;
  drawSpans([[collectionStart[i], collectionEnd[i]]], v, 0, "#000000", 0, "#d4d4d4");
  drawSpans([[markPhaseStart[i], markEnd[i]]], v, 1, "#ff0000", 0);
  if (sweepStart[i] !== null) drawSpans([[sweepStart[i], sweepPhaseEnd[i]]], v, 1, "#0000ff", 0);
  drawSpans([[markDetailStart[i], markEnd[i]]], v, 2, "#ff0000", 0);
  drawSpans(pairs(darkRedByThread[i]), v, 2, "#8b0000", 0.6);
  drawSpans(pairs(grayByThread[i]), v, 2, "#808080", 0.6);
  if (sweepStart[i] !== null) {
    drawSpans([[sweepStart[i], sweepDetailEnd[i]]], v, 2, "#0000ff", 0);
    drawSpans(pairs(navyByThread[i]), v, 2, "#000080", 0.6);
  }
  drawTicks(coalesceByThread[i], v, 2, "#008000", 1.0);
  if (i === 1) drawSpans(pairs(coalesceLong0), v, 2, "#007000", 1);
  drawTicks(syncByThread[i], v, 3, "#ffff00", 0.9);
});

// ---------------- axes ----------------
const xAxis = d3.axisBottom(x).tickValues(xTicks).tickFormat((d, i) => xTickLabels[i])
  .tickSizeInner(5).tickSizeOuter(0).tickPadding(5);
const gx = svg.append("g").attr("transform", `translate(0,${M.bottom})`).call(xAxis);
const yAxis = d3.axisLeft(y).tickValues(threads.map((t, i) => i - 1)).tickFormat((d) => threads[d + 1])
  .tickSizeInner(5).tickSizeOuter(0).tickPadding(5);
const gy = svg.append("g").attr("transform", `translate(${M.left},0)`).call(yAxis);
[gx, gy].forEach(g => {
  g.select(".domain").remove();
  g.selectAll(".tick line").attr("stroke", "#000").attr("stroke-width", 1.1);
  g.selectAll(".tick text").attr("fill", "#000").style("font-family", FONT).style("font-size", "14px");
});
svg.append("rect").attr("x", M.left).attr("y", M.top)
  .attr("width", M.right - M.left).attr("height", M.bottom - M.top)
  .attr("fill", "none").attr("stroke", "#000").attr("stroke-width", 1.15);

// labels
svg.append("text").attr("x", (M.left + M.right) / 2).attr("y", 12.5)
  .attr("text-anchor", "middle").style("font-family", FONT).style("font-size", "17px")
  .text("scala-native-0.3.9-SNAPSHOT-commix@HEAD-r1-gc_abanddon_large_arrays/size_1g-1g gcbench.GCBenchBenchmark last garbage collection");
svg.append("text").attr("x", (M.left + M.right) / 2).attr("y", 1008.5)
  .attr("text-anchor", "middle").style("font-family", FONT).style("font-size", "14px")
  .text("Time since start (ms)");
svg.append("text").attr("x", M.right).attr("y", 1008.5)
  .attr("text-anchor", "end").style("font-family", FONT).style("font-size", "14px")
  .text("+3.147e5");

// legend
const lg = svg.append("g");
lg.append("rect").attr("x", 3939).attr("y", 25.4).attr("width", 145.4).attr("height", 133.6)
  .attr("rx", 3).attr("fill", "#fff").attr("fill-opacity", 0.8).attr("stroke", "#cccccc").attr("stroke-width", 1);
legendLabels.forEach((lab, i) => {
  const cy = 37.0 + i * 21.76;
  lg.append("rect").attr("x", 3944.6).attr("y", cy - 5.4).attr("width", 29).attr("height", 10.8).attr("fill", legendColors[i]);
  lg.append("text").attr("x", 3985).attr("y", cy + 5.3).style("font-family", FONT).style("font-size", "14px").text(lab);
});
</script>
</body></html>
